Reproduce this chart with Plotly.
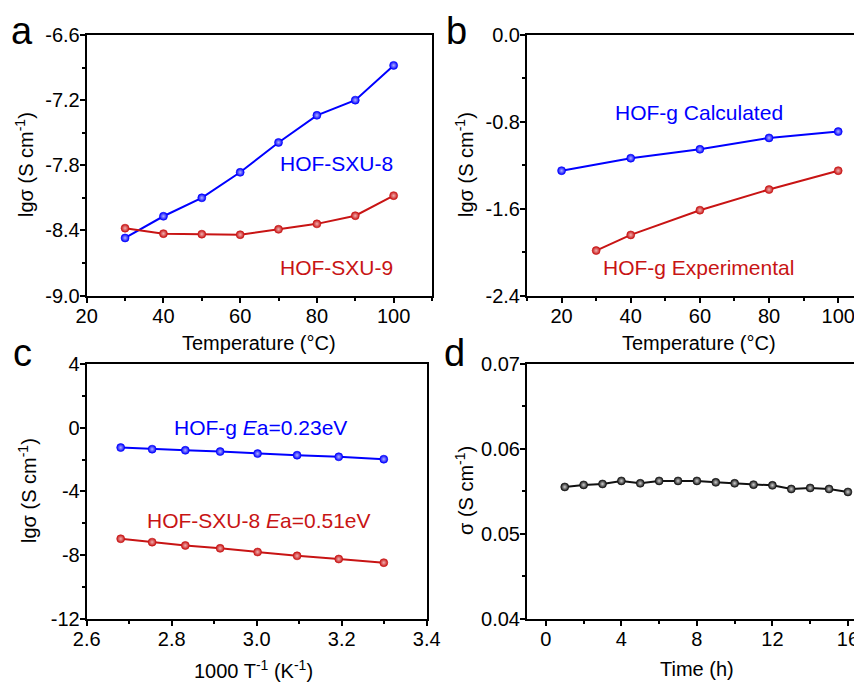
import plotly.graph_objects as go

# ---------------- data ----------------
# panel a
temp_a = [30, 40, 50, 60, 70, 80, 90, 100]
sxu8_a = [-8.47, -8.27, -8.10, -7.865, -7.59, -7.34, -7.20, -6.88]
sxu9_a = [-8.38, -8.43, -8.435, -8.44, -8.39, -8.34, -8.265, -8.08]

# panel b
temp_calc = [20, 40, 60, 80, 100]
hofg_calc = [-1.25, -1.135, -1.053, -0.948, -0.89]
temp_exp = [30, 40, 60, 80, 100]
hofg_exp = [-1.986, -1.842, -1.614, -1.424, -1.25]

# panel c
inv_t = [2.680, 2.754, 2.832, 2.914, 3.002, 3.095, 3.193, 3.299]
hofg_c = [-1.25, -1.35, -1.42, -1.50, -1.63, -1.73, -1.83, -1.98]
sxu8_c = [-6.98, -7.19, -7.40, -7.58, -7.81, -8.05, -8.25, -8.48]

# panel d
time_h = list(range(1, 17))
sigma_d = [0.05552, 0.05576, 0.05587, 0.05623, 0.05595, 0.05623, 0.05623, 0.05623,
           0.05606, 0.05595, 0.05579, 0.05571, 0.05528, 0.05540, 0.05528, 0.05493]

# tick labels
a_xt = [20, 40, 60, 80, 100]; a_xl = ["20", "40", "60", "80", "100"]
a_yt = [-9.0, -8.4, -7.8, -7.2, -6.6]; a_yl = ["-9.0", "-8.4", "-7.8", "-7.2", "-6.6"]
b_xt = [20, 40, 60, 80, 100]; b_xl = ["20", "40", "60", "80", "100"]
b_yt = [-2.4, -1.6, -0.8, 0.0]; b_yl = ["-2.4", "-1.6", "-0.8", "0.0"]
c_xt = [2.6, 2.8, 3.0, 3.2, 3.4]; c_xl = ["2.6", "2.8", "3.0", "3.2", "3.4"]
c_yt = [-12, -8, -4, 0, 4]; c_yl = ["-12", "-8", "-4", "0", "4"]
d_xt = [0, 4, 8, 12, 16]; d_xl = ["0", "4", "8", "12", "16"]
d_yt = [0.04, 0.05, 0.06, 0.07]; d_yl = ["0.04", "0.05", "0.06", "0.07"]

# minor tick values
a_xm = [30, 50, 70, 90, 110]
b_xm = [10, 30, 50, 70, 90]
d_xm = [2, 6, 10, 14]

BLUE = "#0000FF"
RED = "#C81414"
BLACK = "#111111"
FONT = "Liberation Sans, Arial, sans-serif"

W, H = 862, 684
OFF = 8  # page offset of the plot div


def px_x(p):
    return (p - OFF) / W


def px_y(p):
    return 1 - (p - OFF) / H


def mids(vals):
    return [(vals[i] + vals[i + 1]) / 2 for i in range(len(vals) - 1)]


fig = go.Figure()


def add_line(x, y, color, light, xa, ya):
    fig.add_trace(go.Scatter(
        x=x, y=y, mode="lines+markers", xaxis=xa, yaxis=ya, showlegend=False,
        line=dict(color=color, width=2),
        marker=dict(size=8, color=color, line=dict(width=0.6, color=color),
                    gradient=dict(type="radial", color=light)),
    ))


add_line(temp_a, sxu8_a, BLUE, "#b0b0ff", "x", "y")
add_line(temp_a, sxu9_a, RED, "#f0b0b0", "x", "y")
add_line(temp_calc, hofg_calc, BLUE, "#b0b0ff", "x2", "y2")
add_line(temp_exp, hofg_exp, RED, "#f0b0b0", "x2", "y2")
add_line(inv_t, hofg_c, BLUE, "#b0b0ff", "x3", "y3")
add_line(inv_t, sxu8_c, RED, "#f0b0b0", "x3", "y3")
add_line(time_h, sigma_d, BLACK, "#d0d0d0", "x4", "y4")

tickfont = dict(family=FONT, size=20, color="black")


def axis(domain, rng, tv, tl, minor_vals, anchor, mirror):
    return dict(
        domain=domain, range=rng, anchor=anchor, automargin=False,
        tickmode="array", tickvals=tv, ticktext=tl,
        ticks="outside", ticklen=5, tickwidth=2, tickcolor="black",
        ticklabelstandoff=-4,
        minor=dict(tickvals=minor_vals, ticks="outside", ticklen=3, tickwidth=1.5, tickcolor="black"),
        showline=True, linewidth=2, linecolor="black", mirror=mirror,
        showgrid=False, zeroline=False,
        tickfont=tickfont,
    )


dx_a = [px_x(86.7), px_x(432)]
dx_b = [px_x(527), 1.0]
dx_c = [px_x(86.7), px_x(426.7)]
dy_top = [px_y(295.5), px_y(35)]
dy_bot = [px_y(618.7), px_y(364)]

fig.update_layout(
    width=W, height=H, margin=dict(l=0, r=0, t=0, b=0, autoexpand=False),
    paper_bgcolor="white", plot_bgcolor="white",
    font=dict(family=FONT, color="black"),
    xaxis=axis(dx_a, [20, 110], a_xt, a_xl, a_xm, "y", True),
    yaxis=axis(dy_top, [-9.0, -6.6], a_yt, a_yl, mids(a_yt), "x", True),
    xaxis2=axis(dx_b, [10, 109.2], b_xt, b_xl, b_xm, "y2", True),
    yaxis2=axis(dy_top, [-2.4, 0.0], b_yt, b_yl, mids(b_yt), "x2", False),
    xaxis3=axis(dx_c, [2.6, 3.4], c_xt, c_xl, mids(c_xt), "y3", True),
    yaxis3=axis(dy_bot, [-12, 4], c_yt, c_yl, mids(c_yt), "x3", True),
    xaxis4=axis(dx_b, [-1, 17.17], d_xt, d_xl, d_xm, "y4", True),
    yaxis4=axis(dy_bot, [0.04, 0.07], d_yt, d_yl, mids(d_yt), "x4", False),
)

ann_font = dict(family=FONT, size=21)
annotations = [
    dict(x=85, y=-7.78, xref="x", yref="y", text="HOF-SXU-8", font=dict(ann_font, color=BLUE)),
    dict(x=85, y=-8.74, xref="x", yref="y", text="HOF-SXU-9", font=dict(ann_font, color=RED)),
    dict(x=59.7, y=-0.71, xref="x2", yref="y2", text="HOF-g Calculated", font=dict(ann_font, color=BLUE)),
    dict(x=59.7, y=-2.145, xref="x2", yref="y2", text="HOF-g Experimental", font=dict(ann_font, color=RED)),
    dict(x=3.008, y=0.03, xref="x3", yref="y3", text="HOF-g <i>E</i>a=0.23eV", font=dict(ann_font, color=BLUE)),
    dict(x=3.006, y=-5.8, xref="x3", yref="y3", text="HOF-SXU-8 <i>E</i>a=0.51eV", font=dict(ann_font, color=RED)),
]

# axis titles (text, x px, y px, angle)
ylab = "lgσ (S cm<sup>-1</sup>)"
titles = [
    ("Temperature (°C)", 259, 343, 0),
    ("Temperature (°C)", 699, 343, 0),
    ("1000 T<sup>-1</sup> (K<sup>-1</sup>)", 254, 669, 0),
    ("Time (h)", 697, 669, 0),
    (ylab, 25, 165, -90),
    (ylab, 465, 165, -90),
    (ylab, 27, 491, -90),
    ("σ (S cm<sup>-1</sup>)", 464, 491, -90),
]
for t, xp, yp, ang in titles:
    annotations.append(dict(x=px_x(xp), y=px_y(yp), xref="paper", yref="paper", text=t,
                            textangle=ang, font=dict(family=FONT, size=20, color="black")))

letters = [("a", 22, 31), ("b", 456, 31), ("c", 22, 353), ("d", 454, 353)]
for t, xp, yp in letters:
    annotations.append(dict(x=px_x(xp), y=px_y(yp), xref="paper", yref="paper", text=t,
                            font=dict(family=FONT, size=38, color="black")))
for a in annotations:
    a["showarrow"] = False
    a["xanchor"] = "center"
    a["yanchor"] = "middle"
fig.update_layout(annotations=annotations)

fig.write_html("out.html")
